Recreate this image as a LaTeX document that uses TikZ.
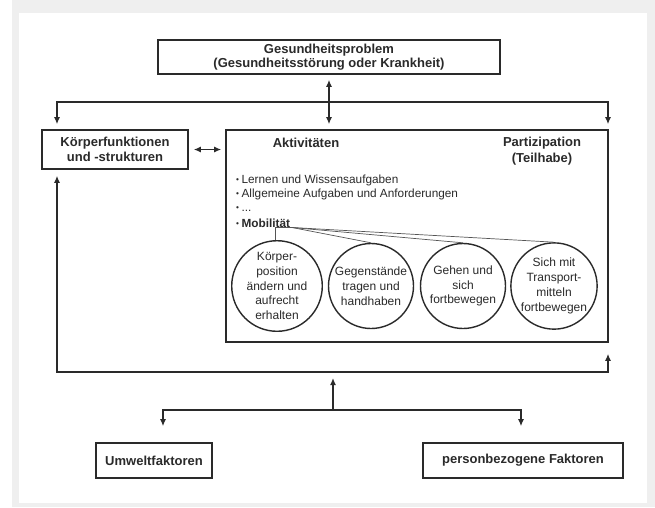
\documentclass[tikz,border=0pt]{standalone}
\usepackage{fontspec}
\setmainfont{Liberation Sans}
\usetikzlibrary{arrows.meta,positioning,calc}
\definecolor{framegray}{HTML}{EFEFEF}
\definecolor{inkgray}{HTML}{2A2A2A}
\newcommand{\dotitem}{\raisebox{0.15ex}{\scalebox{0.7}{\textbullet}}\hspace{2.5pt}}

\begin{document}
\begin{tikzpicture}[x=1pt,y=-1pt,
  >={Latex[length=7pt,width=6pt]},
  box/.style={draw=inkgray,line width=1.6pt,inner sep=0pt,align=center,
    font=\fontsize{13}{14.5}\selectfont\bfseries,text=inkgray},
  conn/.style={line width=1.3pt,draw=inkgray},
  act/.style={draw=inkgray,line width=1.4pt,circle,minimum size=85pt,
    inner sep=0pt,align=center,font=\fontsize{12}{14.8}\selectfont,text=inkgray},
  item/.style={anchor=west,inner sep=0pt,font=\fontsize{11.8}{14}\selectfont,text=inkgray},
  head/.style={inner sep=0pt,align=center,font=\fontsize{13}{16}\selectfont\bfseries,text=inkgray}]
  \useasboundingbox (0,0) rectangle (655,507);
  % Frame
  \fill[framegray] (12,0) rectangle (655,507);
  \fill[white] (19,13) rectangle (647,503);
  % Boxes
  \node[box,minimum width=342pt,minimum height=34pt] (problem) at (329,57)
    {Gesundheitsproblem\\(Gesundheitsstörung oder Krankheit)};
  \node[box,minimum width=146pt,minimum height=39pt] (koerper) at (115,149.5)
    {Körperfunktionen\\und -strukturen};
  \node[draw=inkgray,line width=1.6pt,minimum width=382pt,minimum height=212pt,
    inner sep=0pt] (aktiv) at (417,236) {};
  \node[box,minimum width=116pt,minimum height=35pt] (umwelt) at (154,460.5)
    {Umweltfaktoren};
  \node[box,minimum width=200pt,minimum height=35pt] (person) at (523,460.5)
    {personbezogene Faktoren};
  % Inside the main box
  \node[head] (akt) at (306,143) {Aktivitäten};
  \node[head] (part) at (542,151) {Partizipation\\(Teilhabe)};
  \node[item] (i1) at (236,180) {\dotitem Lernen und Wissensaufgaben};
  \node[item] (i2) at (236,194.5) {\dotitem Allgemeine Aufgaben und Anforderungen};
  \node[item] (i3) at (236,209) {\dotitem ...};
  \node[item] (i4) at (236,223) {\dotitem \textbf{Mobilität}};
  \node[act] (k1) at (277,286) {Körper-\\position\\ändern und\\aufrecht\\erhalten};
  \node[act] (k2) at (371,286) {Gegenstände\\tragen und\\handhaben};
  \node[act] (k3) at (463,286) {Gehen und\\sich\\fortbewegen};
  \node[act] (k4) at (554,286) {Sich mit\\Transport-\\mitteln\\fortbewegen};
  % Mobilitaet branches
  \coordinate (mobA) at (275,227.5);
  \coordinate (mobB) at (292,227.5);
  \draw[inkgray!80,line width=0.7pt] (mobB) -- (mobA) -- (mobA |- k1.north);
  \foreach \k in {k2,k3,k4}
    \draw[inkgray!80,line width=0.7pt] (mobB) -- (\k.north);
  % Top distribution
  \coordinate (tl) at (57,102);
  \coordinate (tr) at (608,102);
  \draw[conn,<->,shorten <=5pt,shorten >=5pt] (problem.south) -- (problem.south |- aktiv.north);
  \draw[conn,<->,shorten <=5pt,shorten >=5pt] (tl |- koerper.north) -- (tl) -- (tr) -- (tr |- aktiv.north);
  \draw[conn,<->,shorten <=5pt,shorten >=4pt] (koerper.east) -- (koerper.east -| aktiv.west);
  % Feedback loop
  \coordinate (fl) at (57,372);
  \coordinate (fr) at (608,372);
  \draw[conn,<->,shorten <=6pt,shorten >=11pt] (tl |- koerper.south) -- (fl) -- (fr) -- (fr |- aktiv.south);
  % Context factors
  \coordinate (mid) at (333,410);
  \coordinate (bl) at (163,410);
  \coordinate (br) at (521,410);
  \draw[conn,->,shorten >=6pt] (mid) -- (mid |- fl);
  \draw[conn,<->,shorten <=16pt,shorten >=16pt] (bl |- umwelt.north) -- (bl) -- (br) -- (br |- person.north);
\end{tikzpicture}
\end{document}
